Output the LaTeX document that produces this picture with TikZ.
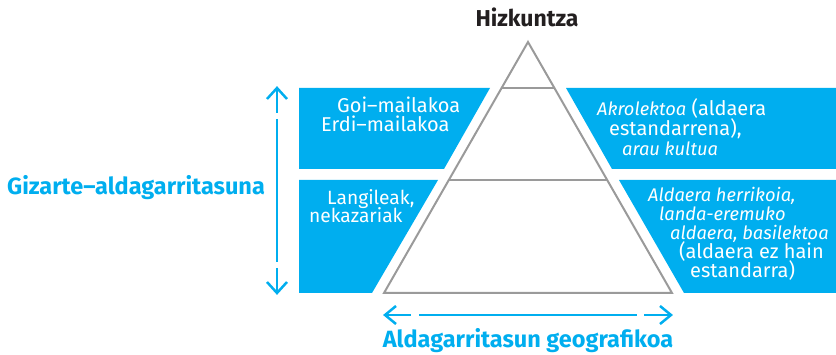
\documentclass[tikz,border=0pt]{standalone}
\usepackage{fontspec}
\setmainfont{Fira Sans}
\definecolor{cyanb}{HTML}{00AEEF}
\definecolor{pyrgray}{HTML}{9A9A9A}
\definecolor{darktxt}{HTML}{231F20}
\newcommand{\itx}[1]{{\fontsize{18.3}{22}\selectfont\itshape #1}}
\begin{document}
\begin{tikzpicture}[x=1pt,y=-1pt,
  band/.style={fill=cyanb,draw=none},
  pyr/.style={draw=pyrgray,line width=2pt,line join=miter},
  wtxt/.style={text=white,inner sep=0pt,anchor=base west,font=\fontsize{20}{22}\selectfont},
  ctitle/.style={text=cyanb,inner sep=0pt,anchor=base,font=\bfseries\fontsize{23.5}{26}\selectfont},
  arr/.style={draw=cyanb,line width=2.5pt,line cap=butt,line join=miter}]
\useasboundingbox (0,0) rectangle (836,355);
% blue bands
\fill[band] (299,88) -- (490,88) -- (444,169) -- (299,169) -- cycle;
\fill[band] (566,88) -- (836,88) -- (836,169) -- (612,169) -- cycle;
\fill[band] (299,180) -- (438,180) -- (372,293) -- (299,293) -- cycle;
\fill[band] (619,180) -- (836,180) -- (836,293) -- (684,293) -- cycle;
% pyramid
\draw[pyr] (528,42) -- (384,293) -- (672,293) -- cycle;
\draw[pyr] (502,88) -- (554,88);
\draw[pyr] (449,180) -- (607,180);
% title
\node[text=darktxt,inner sep=0pt,anchor=base,font=\bfseries\fontsize{23}{26}\selectfont] (hiz) at (527,27) {Hizkuntza};
% band texts
\node[wtxt] (goi) at (337,113) {Goi–mailakoa};
\node[wtxt] (erdi) at (321,132) {Erdi–mailakoa};
\node[wtxt] (akro) at (597,116) {\itx{Akrolektoa} (aldaera};
\node[wtxt] (estd) at (609,136) {estandarrena),};
\node[wtxt] (arau) at (622,156) {\itx{arau kultua}};
\node[wtxt,font=\fontsize{19.2}{21}\selectfont] (lang) at (327,204.5) {Langileak,};
\node[wtxt,font=\fontsize{19.2}{21}\selectfont] (neka) at (309,223) {nekazariak};
\node[wtxt] (herr) at (648,202) {\itx{Aldaera herrikoia,}};
\node[wtxt] (land) at (659,221) {\itx{landa-eremuko}};
\node[wtxt] (basi) at (670,240) {\itx{aldaera, basilektoa}};
\node[wtxt] (ezha) at (679,259) {(aldaera ez hain};
\node[wtxt] (estr) at (690,278) {estandarra)};
% axis titles
\node[ctitle,anchor=base west] (giz) at (7,195) {Gizarte–aldagarritasuna};
\node[ctitle] (geo) at (528,348) {Aldagarritasun geografikoa};
% vertical arrow
\coordinate (vt) at (277,88);
\coordinate (vb) at (277,293);
\draw[arr] (267,99) -- (vt) -- (287,99);
\draw[arr] (277,89) -- (277,113);
\draw[arr] (277,119) -- (277,262);
\draw[arr] (277,268) -- (277,292);
\draw[arr] (267,282) -- (vb) -- (287,282);
% horizontal arrow
\coordinate (hl) at (385,315);
\coordinate (hr) at (671,315);
\draw[arr] (396,306) -- (hl) -- (396,324);
\draw[arr] (386,315) -- (411,315);
\draw[arr] (419,315) -- (637,315);
\draw[arr] (644,315) -- (670,315);
\draw[arr] (660,306) -- (hr) -- (660,324);
\end{tikzpicture}
\end{document}
